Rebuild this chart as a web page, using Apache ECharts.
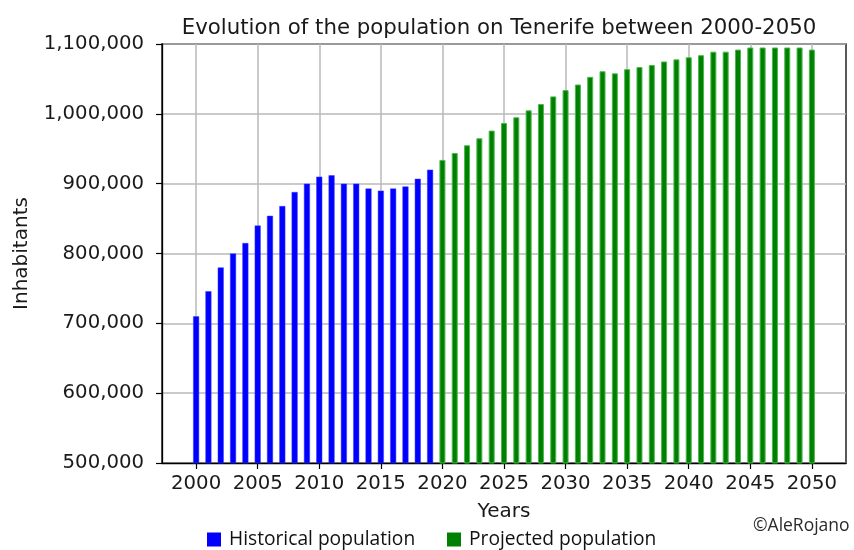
<!DOCTYPE html>
<html>
<head>
<meta charset="utf-8">
<script src="https://cdn.jsdelivr.net/npm/echarts@6/dist/echarts.min.js"></script>
<style>html,body{margin:0;padding:0;background:#fff;}#c{width:854px;height:550px;}</style>
</head>
<body>
<div id="c"></div>
<script>
const histYears = [2000,2001,2002,2003,2004,2005,2006,2007,2008,2009,2010,2011,2012,2013,2014,2015,2016,2017,2018,2019];
const histValues = [710000,746000,780000,800000,815000,840000,854000,868000,888000,900000,910000,912000,900000,900000,893000,890000,893000,896000,907000,920000];
const projYears = [2020,2021,2022,2023,2024,2025,2026,2027,2028,2029,2030,2031,2032,2033,2034,2035,2036,2037,2038,2039,2040,2041,2042,2043,2044,2045,2046,2047,2048,2049,2050];
const projValues = [934000,944000,955000,965000,976000,987000,995000,1005000,1014000,1025000,1034000,1042000,1053000,1061000,1058000,1064000,1067000,1070000,1075000,1078000,1081000,1084000,1089000,1089000,1092000,1095000,1095000,1095000,1095000,1095000,1092000];
const xTicks = [2000,2005,2010,2015,2020,2025,2030,2035,2040,2045,2050];
const yTicks = [500000,600000,700000,800000,900000,1000000,1100000];

const FONT = 'DejaVu Sans';
const legendText = {fontFamily: 'Open Sans', fontSize: 19.2, color: '#111', padding: [0, 0, 0, 3]};
const chart = echarts.init(document.getElementById('c'), null, {renderer:'canvas'});
chart.setOption({
  animation: false,
  backgroundColor: '#fff',
  title: {
    text: 'Evolution of the population on Tenerife between 2000-2050',
    left: 494, top: 13, textAlign: 'center',
    textStyle: {fontFamily: FONT, fontSize: 21.3, fontWeight: 'normal', color: '#1a1a1a'}
  },
  legend: [
    {left: 207, top: 530, padding: 0, itemWidth: 14, itemHeight: 14, icon: 'rect', itemGap: 0,
     itemStyle: {borderWidth: 0}, textStyle: legendText, data: ['Historical population']},
    {left: 447, top: 530, padding: 0, itemWidth: 14, itemHeight: 14, icon: 'rect', itemGap: 0,
     itemStyle: {borderWidth: 0}, textStyle: legendText, data: ['Projected population']}
  ],
  grid: {left: 162, right: 8, top: 44, bottom: 87, show: true, borderColor: '#000', borderWidth: 1.3, backgroundColor: 'transparent'},
  xAxis: {
    type: 'value', min: 1997.23, max: 2052.77,
    name: 'Years', nameLocation: 'middle', nameGap: 39,
    nameTextStyle: {fontFamily: FONT, fontSize: 20, color: '#1a1a1a'},
    axisLine: {show: true, lineStyle: {color: '#000', width: 1.3}},
    axisTick: {show: true, length: 6, customValues: xTicks, lineStyle: {color: '#000', width: 1.2}},
    axisLabel: {customValues: xTicks, fontFamily: FONT, fontSize: 19.7, color: '#1a1a1a', margin: 11,
      formatter: v => String(v)},
    splitLine: {show: true, lineStyle: {color: '#b8b8b8', width: 1.5}}
  },
  yAxis: {
    type: 'value', min: 500000, max: 1100000, interval: 100000,
    name: 'Inhabitants', nameLocation: 'middle', nameGap: 130, nameRotate: 90,
    nameTextStyle: {fontFamily: FONT, fontSize: 20, color: '#1a1a1a'},
    axisLine: {show: true, lineStyle: {color: '#000', width: 1.3}},
    axisTick: {show: true, length: 6, lineStyle: {color: '#000', width: 1.2}},
    axisLabel: {fontFamily: FONT, fontSize: 19.7, color: '#1a1a1a', margin: 18,
      formatter: v => v.toLocaleString('en-US')},
    splitLine: {show: true, lineStyle: {color: '#b8b8b8', width: 1.5}}
  },
  series: [
    {name: 'Historical population', type: 'bar', barWidth: 6, z: 3,
     itemStyle: {color: '#0000ff', borderColor: '#3a3aff', borderWidth: 0.5},
     data: histYears.map((y, i) => [y, histValues[i]])},
    {name: 'Projected population', type: 'bar', barWidth: 6, z: 3, barGap: '-100%',
     itemStyle: {color: '#008000', borderColor: '#4cb84c', borderWidth: 1},
     data: projYears.map((y, i) => [y, projValues[i]])}
  ],
  graphic: [{
    type: 'text', left: 753, top: 517,
    style: {text: '©AleRojano', fontFamily: 'Open Sans', fontSize: 17.5, fill: '#2a2a2a'}
  }]
});
</script>
</body>
</html>
